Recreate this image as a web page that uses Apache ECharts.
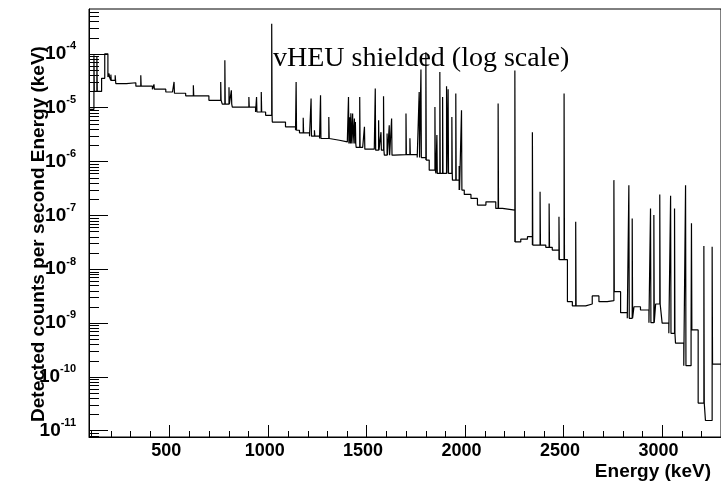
<!DOCTYPE html>
<html>
<head>
<meta charset="utf-8">
<script src="https://cdn.jsdelivr.net/npm/echarts@6.0.0/dist/echarts.min.js"></script>
<style>
  html, body { margin: 0; padding: 0; background: #fff; }
  #chart-container { width: 721px; height: 488px; }
</style>
</head>
<body>
<div id="chart-container"></div>
<script>
// continuum of the spectrum: bin edges (keV) and counts per bin
var binEdges = [90, 115, 154, 170, 186, 201, 226, 280, 328, 412, 480, 514, 581, 699, 767, 818, 936, 987,
  1021, 1088, 1139, 1159, 1210, 1261, 1311, 1362, 1402, 1447, 1480, 1539, 1590, 1641, 1757, 1801, 1818,
  1852, 1936, 1970, 1996, 2030, 2063, 2106, 2156, 2190, 2253, 2283, 2317, 2342, 2410, 2443, 2477, 2520,
  2545, 2613, 2646, 2680, 2722, 2756, 2790, 2824, 2858, 2891, 2934, 2968, 3001, 3035, 3069, 3111, 3148,
  3184, 3221, 3255, 3300];
var binCounts = [9.3e-6, 2.0e-5, 3.5e-5, 1.0e-4, 3.7e-5, 3.2e-5, 2.8e-5, 2.9e-5, 2.5e-5, 2.2e-5, 1.95e-5,
  1.85e-5, 1.66e-5, 1.37e-5, 1.16e-5, 1.02e-5, 8.3e-6, 7.2e-6,
  5.4e-6, 4.4e-6, 3.8e-6, 3.4e-6, 2.95e-6, 2.67e-6, 2.48e-6, 2.31e-6, 2.16e-6, 1.82e-6, 1.69e-6, 1.62e-6,
  1.31e-6, 1.34e-6, 1.18e-6, 1.06e-6,
  6.9e-7, 6.0e-7, 4.5e-7, 2.94e-7, 2.44e-7, 2.06e-7, 1.55e-7, 1.78e-7, 1.34e-7, 1.25e-7, 3.2e-8, 3.6e-8,
  4.0e-8, 2.8e-8, 2.54e-8, 2.26e-8, 1.5e-8,
  2.48e-9, 2.07e-9, 2.25e-9, 3.17e-9, 2.48e-9, 2.59e-9, 3.81e-9, 1.55e-9, 1.22e-9, 2.0e-9, 1.74e-9,
  1.01e-9, 2.25e-9, 9.9e-10, 6.4e-10, 4.2e-10, 1.61e-10,
  7.4e-10, 3.24e-11, 1.54e-11, 1.71e-10];

// gamma lines: energy (keV) and peak height
var peakEnergies = [115, 130, 192, 201, 223, 353, 420, 522, 620, 759, 780, 801, 813, 902, 941, 965, 1018,
  1142, 1178, 1218, 1235, 1266, 1308, 1408, 1415, 1420, 1429, 1438, 1443, 1465, 1489, 1544, 1561, 1573,
  1586, 1604, 1615, 1627, 1700, 1720, 1767, 1776, 1801, 1847, 1857, 1872, 1886, 1906, 1914, 1933, 1953,
  1970, 1982, 2168, 2253, 2342, 2381, 2427, 2477, 2503, 2562, 2756, 2832, 2849, 2942, 2959, 2989, 3044,
  3064, 3120, 3150, 3213, 3255];
var peakCounts = [9.4e-5, 9.0e-5, 4.3e-5, 4.1e-5, 4.0e-5, 4.0e-5, 2.7e-5, 3.0e-5, 2.6e-5, 3.0e-5, 7.6e-5,
  2.4e-5, 2.1e-5, 1.58e-5, 1.58e-5, 1.95e-5, 3.6e-4,
  3.0e-5, 6.5e-6, 1.47e-5, 3.8e-6, 1.7e-5, 6.7e-6, 1.58e-5, 6.6e-6, 7.9e-6, 7.8e-6, 6.3e-6, 5.4e-6,
  1.58e-5, 4.4e-6, 2.26e-5, 5.8e-6, 3.5e-6,
  1.63e-5, 3.3e-6, 4.7e-6, 6.3e-6, 7.8e-6, 2.7e-6, 1.95e-5, 5.1e-5, 1.07e-4, 1.03e-5, 3.1e-6, 4.6e-5,
  1.58e-5, 2.5e-5, 2.2e-5, 6.7e-6, 1.83e-5,
  8.2e-7, 8.9e-6, 1.19e-5, 4.9e-5, 3.5e-6, 2.73e-7, 1.66e-7, 9.4e-8, 1.83e-5, 7.6e-8, 4.5e-7, 3.6e-7,
  8.7e-8, 1.34e-7, 1.01e-7, 2.44e-7, 2.3e-7,
  1.34e-7, 3.6e-7, 7.1e-8, 2.69e-8, 2.6e-8];

var X_MIN = 90, X_MAX = 3300;
var Y_MIN = 7.6e-12, Y_MAX = 6.8e-4;
var PEAK_WIDTH = 2;

// step outline of the histogram with the narrow line bins put in
// (careful: a global called "top" is window.top)
var order = peakEnergies.map(function (e, i) { return i; })
  .sort(function (a, b) { return peakEnergies[a] - peakEnergies[b]; });
var histPoints = [];
var p = 0;
for (var i = 0; i < binCounts.length; i++) {
  var lo = binEdges[i], hi = binEdges[i + 1], v = binCounts[i];
  histPoints.push([lo, v]);
  while (p < order.length && peakEnergies[order[p]] < hi) {
    var pe = peakEnergies[order[p]], ph = peakCounts[order[p]];
    histPoints.push([pe, v], [pe, ph], [pe + PEAK_WIDTH, ph], [pe + PEAK_WIDTH, v]);
    p++;
  }
  histPoints.push([hi, v]);
}

// minor ticks like ROOT draws them
var yMinorTicks = [];
for (var n = -12; n <= -4; n++) {
  for (var k = 2; k <= 9; k++) {
    var t = k * Math.pow(10, n);
    if (t > Y_MIN && t < Y_MAX) yMinorTicks.push([X_MIN, t]);
  }
}
var xMinorTicks = [];
for (var xv = 100; xv < X_MAX; xv += 100) {
  if (xv % 500 !== 0) xMinorTicks.push([xv, Y_MIN]);
}

var dom = document.getElementById('chart-container');
var myChart = echarts.init(dom, null, { renderer: 'canvas' });

var option = {
  animation: false,
  title: {
    text: 'vHEU shielded (log scale)',
    left: 273,
    top: 45,
    padding: 0,
    textStyle: {
      fontFamily: 'Liberation Serif',
      fontWeight: 'normal',
      fontSize: 28,
      color: '#000'
    }
  },
  grid: {
    left: 89,
    right: -1,
    top: 9,
    bottom: 51,
    show: true,
    borderColor: '#000',
    borderWidth: 1
  },
  xAxis: {
    type: 'value',
    min: X_MIN,
    max: X_MAX,
    splitLine: { show: false },
    axisLine: { onZero: false, lineStyle: { color: '#000', width: 1 } },
    axisTick: { inside: true, length: 12, lineStyle: { color: '#000' } },
    axisLabel: {
      showMinLabel: false,
      showMaxLabel: false,
      margin: 5,
      padding: [0, 7, 0, 0],
      color: '#000',
      fontFamily: 'Liberation Sans',
      fontWeight: 'bold',
      fontSize: 18,
      formatter: function (val) { return String(val); }
    }
  },
  yAxis: {
    type: 'log',
    logBase: 10,
    min: Y_MIN,
    max: Y_MAX,
    splitLine: { show: false },
    axisLine: { lineStyle: { color: '#000', width: 1 } },
    axisTick: { inside: true, length: 19, lineStyle: { color: '#000' } },
    axisLabel: {
      showMinLabel: false,
      showMaxLabel: false,
      margin: 13,
      formatter: function (val) {
        var ex = Math.round(Math.log10(val));
        if (Math.abs(Math.log10(val) - ex) > 1e-6) return '';
        return '{b|10}{e|' + ex + '}';
      },
      rich: {
        b: { fontFamily: 'Liberation Sans', fontWeight: 'bold', fontSize: 19, lineHeight: 26, color: '#000' },
        e: { fontFamily: 'Liberation Sans', fontWeight: 'bold', fontSize: 11, lineHeight: 12,
             verticalAlign: 'top', color: '#000' }
      }
    }
  },
  graphic: [
    {
      type: 'text',
      x: 39,
      y: 234,
      rotation: Math.PI / 2,
      style: {
        text: 'Detected counts per second Energy (keV)',
        font: 'bold 19px "Liberation Sans"',
        fill: '#000',
        align: 'center',
        verticalAlign: 'middle'
      }
    },
    {
      type: 'text',
      x: 711,
      y: 472,
      style: {
        text: 'Energy (keV)',
        font: 'bold 19px "Liberation Sans"',
        fill: '#000',
        align: 'right',
        verticalAlign: 'middle'
      }
    }
  ],
  series: [
    {
      type: 'line',
      data: histPoints,
      showSymbol: false,
      symbol: 'none',
      silent: true,
      lineStyle: { color: '#000', width: 1.2 },
      z: 2
    },
    {
      type: 'custom',
      silent: true,
      data: yMinorTicks,
      renderItem: function (params, api) {
        var pt = api.coord([api.value(0), api.value(1)]);
        var y = Math.round(pt[1]) + 0.5;
        return { type: 'line', shape: { x1: pt[0], y1: y, x2: pt[0] + 10, y2: y },
                 style: { stroke: '#000', lineWidth: 1 } };
      },
      z: 3
    },
    {
      type: 'custom',
      silent: true,
      data: xMinorTicks,
      renderItem: function (params, api) {
        var pt = api.coord([api.value(0), api.value(1)]);
        var x = Math.round(pt[0]) + 0.5;
        return { type: 'line', shape: { x1: x, y1: pt[1], x2: x, y2: pt[1] - 6 },
                 style: { stroke: '#000', lineWidth: 1 } };
      },
      z: 3
    }
  ]
};

myChart.setOption(option);
window.addEventListener('resize', myChart.resize);
</script>
</body>
</html>
